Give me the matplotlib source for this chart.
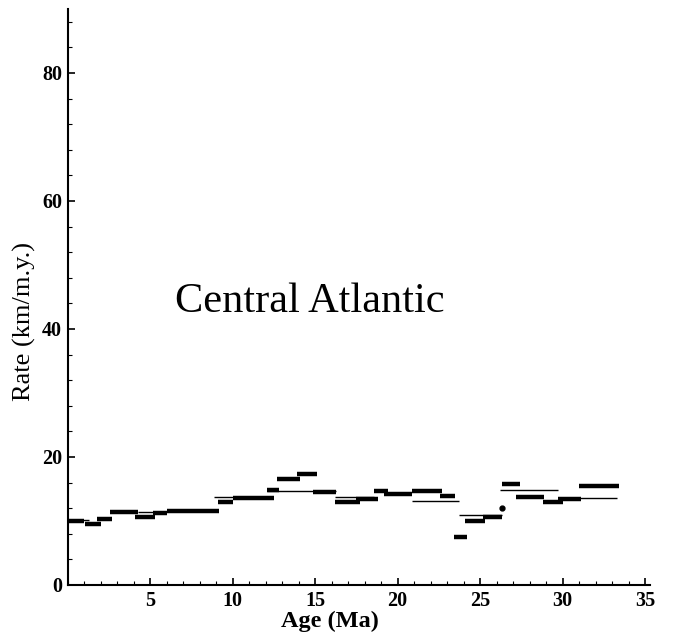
import matplotlib
matplotlib.use("Agg")
import matplotlib.pyplot as plt
from matplotlib.ticker import MultipleLocator

# Thick segments (age start, age end, rate)
thick_start = [0.0, 1.05, 1.8, 2.6, 4.1, 5.2, 6.0, 9.1, 10.0, 12.1, 12.7, 13.9, 14.9,
               16.2, 17.5, 18.6, 19.2, 20.9, 22.6, 23.4, 24.1, 25.2, 26.3, 27.2,
               28.8, 29.7, 31.0]
thick_end = [1.0, 2.0, 2.7, 4.3, 5.3, 6.0, 9.2, 10.0, 12.5, 12.8, 14.1, 15.1, 16.3,
             17.7, 18.8, 19.4, 20.9, 22.7, 23.5, 24.2, 25.3, 26.3, 27.4, 28.9,
             30.0, 31.1, 33.4]
thick_rate = [10.0, 9.5, 10.3, 11.4, 10.6, 11.3, 11.5, 13.0, 13.6, 14.8, 16.5, 17.4, 14.6,
              13.0, 13.4, 14.7, 14.2, 14.7, 13.9, 7.5, 10.0, 10.6, 15.8, 13.75,
              13.0, 13.4, 15.5]

# Thin segments
thin_start = [0.8, 4.3, 8.9, 12.1, 16.2, 20.9, 23.7, 26.2, 29.7]
thin_end = [1.3, 5.3, 10.0, 16.3, 18.6, 23.7, 26.3, 29.7, 33.3]
thin_rate = [10.2, 11.4, 13.8, 14.7, 13.8, 13.1, 10.9, 14.8, 13.6]

# Isolated point
dot_age = [26.3]
dot_rate = [12.1]

serif = ["Liberation Serif", "DejaVu Serif"]

fig = plt.figure(figsize=(6.75, 6.4), dpi=100)
ax = fig.add_axes([0.1, 0.086, 0.863, 0.9])

ax.hlines(thick_rate, thick_start, thick_end, colors="black", linewidth=3.2)
ax.hlines(thin_rate, thin_start, thin_end, colors="black", linewidth=1.0)
ax.plot(dot_age, dot_rate, "o", color="black", markersize=3.5)

ax.set_xlim(0, 35.3)
ax.set_ylim(0, 90)
ax.xaxis.set_minor_locator(MultipleLocator(1))
ax.yaxis.set_minor_locator(MultipleLocator(4))
ax.set_xticks([5, 10, 15, 20, 25, 30, 35])
ax.set_yticks([0, 20, 40, 60, 80])

for s in ["top", "right"]:
    ax.spines[s].set_visible(False)
for s in ["left", "bottom"]:
    ax.spines[s].set_linewidth(1.5)

ax.tick_params(which="major", direction="in", length=5, width=1.2)
ax.tick_params(axis="x", which="major", pad=4)
ax.tick_params(axis="y", which="major", pad=4)
ax.tick_params(which="minor", direction="in", length=3, width=0.8)
for lab in ax.get_xticklabels() + ax.get_yticklabels():
    lab.set_family(serif)
    lab.set_fontweight("bold")
    lab.set_fontsize(14.5)

ax.set_xlabel("Age (Ma)", family=serif, fontsize=17.5, fontweight="bold")
ax.xaxis.label.set_va("center")
ax.xaxis.set_label_coords(0.4506, -0.063)
ax.set_ylabel("Rate (km/m.y.)", family=serif, fontsize=19)
ax.yaxis.label.set_va("center")
ax.yaxis.set_label_coords(-0.0747, 0.4566)

ax.text(6.5, 44.2, "Central Atlantic", family=serif, fontsize=30.5, va="center", ha="left")

fig.savefig("out.png", dpi=100)
